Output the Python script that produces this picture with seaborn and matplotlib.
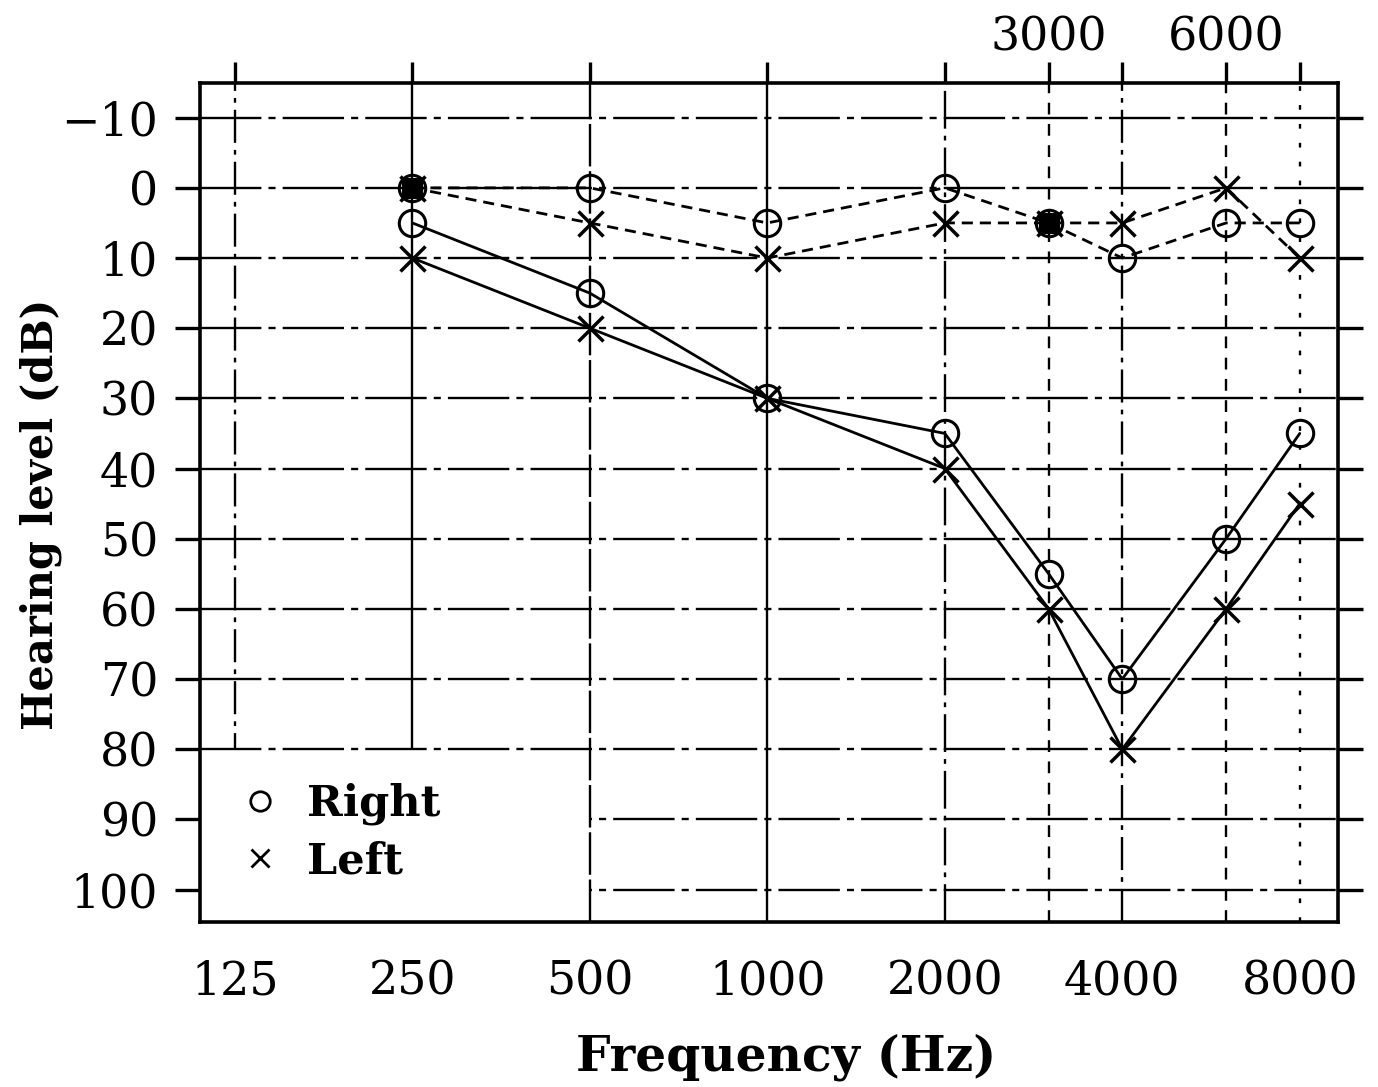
import matplotlib
matplotlib.use("Agg")
import matplotlib.pyplot as plt
from matplotlib.lines import Line2D
from matplotlib.patches import Rectangle
import seaborn as sns
import pandas as pd

# ---------------- data ----------------
freqs = [250, 500, 1000, 2000, 3000, 4000, 6000, 8000]
right_solid = [5, 15, 30, 35, 55, 70, 50, 35]
left_solid = [10, 20, 30, 40, 60, 80, 60, 45]
right_dashed = [0, 0, 5, 0, 5, 10, 5, 5]
left_dashed = [0, 5, 10, 5, 5, 5, 0, 10]

bottom_ticks = [125, 250, 500, 1000, 2000, 4000, 8000]
top_ticks = [125, 250, 500, 1000, 2000, 3000, 4000, 6000, 8000]
top_labels = ["", "", "", "", "", "3000", "", "6000", ""]
y_ticks = list(range(-10, 101, 10))

# ---------------- style ----------------
sns.set_style("white")
plt.rcParams["font.family"] = ["DejaVu Serif", "Liberation Serif"]
for k in ["text.color", "axes.labelcolor", "xtick.color", "ytick.color"]:
    plt.rcParams[k] = "black"

fig = plt.figure(figsize=(13.78, 10.87), dpi=100)
ax = fig.add_axes([0.145, 0.152, 0.826, 0.772])

ax.set_xscale("log", base=2)
ax.set_xlim(109, 9290)
ax.set_ylim(104.6, -15)

# grid lines
hstyle = (0, (26, 3, 3, 3))
vstyles = {
    125: (0, (14, 3, 2, 3)),
    250: "-",
    500: (0, (18, 2)),
    1000: "-",
    2000: (0, (16, 3, 2, 3)),
    3000: (0, (5, 4)),
    4000: (0, (14, 3, 2, 3)),
    6000: (0, (5, 4)),
    8000: (0, (2, 6)),
}
glw = 1.7
for yv in y_ticks:
    z = 1.6 if yv == 80 else 1
    ax.axhline(yv, color="black", lw=glw, ls=hstyle, zorder=z)
for xv in top_ticks:
    z = 1.6 if xv == 500 else 1
    ax.axvline(xv, color="black", lw=glw, ls=vstyles[xv], zorder=z)

# white legend box (blanks the grid in lower-left)
ax.add_patch(Rectangle((ax.get_xlim()[0], 80), 500 - ax.get_xlim()[0], 30,
                       facecolor="white", edgecolor="none", zorder=1.5))

# ---------------- series ----------------
def draw(vals, marker, ls, size, mew):
    df = pd.DataFrame({"f": freqs, "v": vals})
    sns.lineplot(data=df, x="f", y="v", ax=ax, color="black", lw=2.0,
                 linestyle=ls, marker=marker, markersize=size,
                 markerfacecolor="none", markeredgecolor="black",
                 markeredgewidth=mew, zorder=3, sort=False,
                 estimator=None)

draw(right_solid, "o", "-", 19, 2.2)
draw(left_solid, "x", "-", 18, 2.5)
draw(right_dashed, "o", (0, (4, 2.5)), 19, 2.2)
draw(left_dashed, "x", (0, (4, 2.5)), 18, 2.5)

# coincident masked thresholds shown as filled squares
same = pd.DataFrame({"f": freqs, "r": right_dashed, "l": left_dashed})
same = same[same["r"] == same["l"]]
sns.lineplot(data=same, x="f", y="r", ax=ax, marker="s", markersize=15,
             linestyle="none", color="black", markerfacecolor="black",
             markeredgecolor="black", zorder=4, estimator=None, sort=False)

# ---------------- axes ----------------
ax.set_xticks(bottom_ticks)
ax.set_xticklabels([str(t) for t in bottom_ticks])
ax.xaxis.set_minor_locator(matplotlib.ticker.NullLocator())
ax.set_yticks(y_ticks)
ax.set_yticklabels([f"{t}".replace("-", "\u2212") for t in y_ticks])
ax.tick_params(axis="x", which="major", direction="out", length=17, width=2.4,
               labelsize=33, pad=10)
ax.tick_params(axis="y", which="major", direction="out", length=18, width=2.4,
               labelsize=33, pad=12, left=True, right=True)

top = ax.secondary_xaxis("top")
top.set_xticks(top_ticks)
top.set_xticklabels(top_labels)
top.xaxis.set_minor_locator(matplotlib.ticker.NullLocator())
top.tick_params(direction="out", length=15, width=2.4, labelsize=33, pad=1)
top.spines["top"].set_visible(False)

for s in ax.spines.values():
    s.set_visible(True)
    s.set_color("black")
    s.set_linewidth(2.6)
    s.set_zorder(5)

ax.set_xlabel("Frequency (Hz)", fontsize=35, fontweight="bold")
ax.xaxis.set_label_coords(0.515, -0.133)
ax.set_ylabel("Hearing level (dB)", fontsize=30, fontweight="bold")
ax.yaxis.set_label_coords(-0.121, 0.485)

# legend
handles = [
    Line2D([], [], color="black", marker="o", ls="none", markersize=14,
           markerfacecolor="none", markeredgewidth=2),
    Line2D([], [], color="black", marker="x", ls="none", markersize=13,
           markeredgewidth=2),
]
leg = ax.legend(handles, ["Right", "Left"], loc="upper left",
                bbox_to_anchor=(0.0, 0.212), frameon=False,
                handlelength=1.0, handletextpad=0.6, labelspacing=0.35,
                prop={"weight": "bold", "size": 31})
leg.set_zorder(6)

fig.savefig("out.png", dpi=100, facecolor="white")
